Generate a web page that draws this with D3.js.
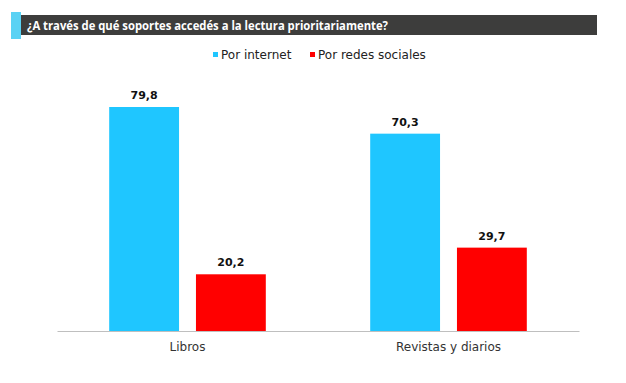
<!DOCTYPE html>
<head>
    <script src="https://d3js.org/d3.v7.min.js"></script>
    <style>
        body { margin: 0; background: #fff; }
        text { font-family: "DejaVu Sans", sans-serif; }
    </style>
</head>
<body>
    <script>
        // Data
        var categories = ["Libros", "Revistas y diarios"];
        var series = ["Por internet", "Por redes sociales"];
        var internetValues = [79.8, 70.3];
        var redesValues = [20.2, 29.7];
        var colors = ["#1fc6ff", "#ff0000"];
        var title = "¿A través de qué soportes accedés a la lectura prioritariamente?";

        var width = 626, height = 383;
        var svg = d3.select("body").append("svg")
            .attr("width", width)
            .attr("height", height);

        // Title bar with cyan accent
        svg.append("rect").attr("x", 21).attr("y", 15).attr("width", 576).attr("height", 20).attr("fill", "#3d3d3c");
        svg.append("rect").attr("x", 11).attr("y", 12).attr("width", 10).attr("height", 27).attr("fill", "#5ad2f4");
        svg.append("text")
            .attr("x", 27).attr("y", 29.5)
            .attr("fill", "#fff")
            .style("font-family", "'Open Sans', sans-serif")
            .style("font-size", "11.5px").style("font-weight", "bold")
            .attr("textLength", 361).attr("lengthAdjust", "spacingAndGlyphs")
            .text(title);

        // Scales
        var x0 = d3.scaleBand().domain(categories).range([57, 579]);
        var bw = x0.bandwidth();
        var x1 = d3.scaleBand().domain(series).range([bw * 0.2, bw * 0.8]).paddingInner(0.195);
        var y = d3.scaleLinear().domain([0, 100]).range([331, 50.3]);

        var rows = categories.map(function (c, i) {
            return { cat: c, values: [internetValues[i], redesValues[i]] };
        });

        var groups = svg.selectAll("g.group").data(rows).enter().append("g")
            .attr("class", "group")
            .attr("transform", function (d) { return "translate(" + x0(d.cat) + ",0)"; });

        groups.selectAll("rect").data(function (d) {
            return d.values.map(function (v, j) { return { s: series[j], v: v, j: j }; });
        }).enter().append("rect")
            .attr("x", function (d) { return x1(d.s); })
            .attr("y", function (d) { return y(d.v); })
            .attr("width", x1.bandwidth())
            .attr("height", function (d) { return y(0) - y(d.v); })
            .attr("fill", function (d) { return colors[d.j]; });

        // Value labels
        groups.selectAll("text.val").data(function (d) {
            return d.values.map(function (v, j) { return { s: series[j], v: v }; });
        }).enter().append("text")
            .attr("class", "val")
            .attr("x", function (d) { return x1(d.s) + x1.bandwidth() / 2; })
            .attr("y", function (d) { return y(d.v) - 8; })
            .attr("text-anchor", "middle")
            .attr("fill", "#111")
            .style("font-size", "11px").style("font-weight", "bold")
            .text(function (d) { return d3.format(".1f")(d.v).replace(".", ","); });

        // X axis
        var xAxis = svg.append("g")
            .attr("transform", "translate(0,331)")
            .call(d3.axisBottom(x0).tickSize(0).tickPadding(11));
        xAxis.select(".domain").attr("stroke", "#bfbfbf").attr("stroke-width", 1);
        xAxis.selectAll("text")
            .attr("fill", "#333")
            .style("font-size", "12px")
            .style("font-family", "DejaVu Sans, sans-serif");

        // Legend
        var legendX = [213, 310];
        var legend = svg.selectAll("g.legend").data(series).enter().append("g")
            .attr("class", "legend")
            .attr("transform", function (d, i) { return "translate(" + legendX[i] + ",52)"; });
        legend.append("rect").attr("width", 5).attr("height", 5)
            .attr("fill", function (d, i) { return colors[i]; });
        legend.append("text")
            .attr("x", 8).attr("y", 7)
            .attr("fill", "#222")
            .style("font-size", "12px")
            .text(function (d) { return d; });
    </script>
</body>
